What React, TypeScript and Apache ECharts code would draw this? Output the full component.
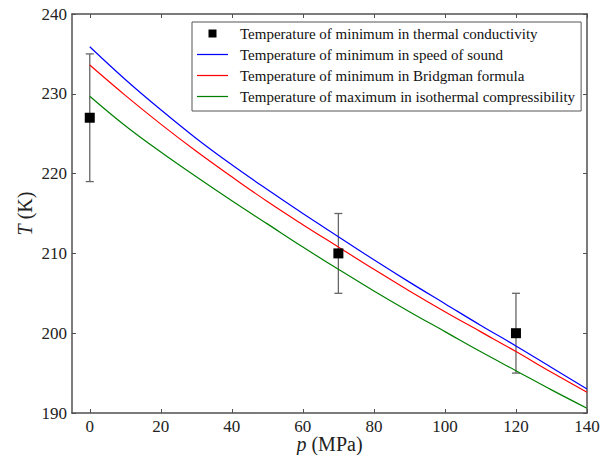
import React, { useEffect, useRef } from "react";
import * as echarts from "echarts";

// Pressure grid (MPa) for model curves
const pressure = [0, 10, 20, 30, 40, 50, 60, 70, 80, 90, 100, 110, 120, 130, 140];
// Temperature of minimum in speed of sound (K)
const soundT = [235.9, 231.8, 228.0, 224.4, 221.1, 218.0, 215.0, 212.1, 209.2, 206.4, 203.7, 201.0, 198.4, 195.7, 193.0];
// Temperature of minimum in Bridgman formula (K)
const bridgmanT = [233.6, 229.8, 226.2, 222.8, 219.6, 216.5, 213.6, 210.8, 208.0, 205.3, 202.7, 200.2, 197.7, 195.1, 192.6];
// Temperature of maximum in isothermal compressibility (K)
const compressT = [229.7, 226.0, 222.7, 219.6, 216.6, 213.7, 210.8, 208.0, 205.3, 202.7, 200.2, 197.7, 195.3, 192.9, 190.6];

// Experimental points: thermal conductivity minimum
const expP = [0, 70, 120];
const expT = [227, 210, 200];
const expLow = [219, 205, 195];
const expHigh = [235, 215, 205];

const xTicks = [0, 20, 40, 60, 80, 100, 120, 140];
const yTicks = [190, 200, 210, 220, 230, 240];

const names = [
  "Temperature of minimum in thermal conductivity",
  "Temperature of minimum in speed of sound",
  "Temperature of minimum in Bridgman formula",
  "Temperature of maximum in isothermal compressibility",
];

const FONT = "'Liberation Serif', 'Times New Roman', serif";
const SERIF = "Liberation Serif";
const AXIS_COLOR = "#505050";
const LINE_ICON = "path://M0,0 L100,0 L100,4 L0,4 Z";

export default function App() {
  const ref = useRef<HTMLDivElement>(null);
  useEffect(() => {
    if (!ref.current) return;
    const chart = echarts.init(ref.current, undefined, { renderer: "svg" });
    const commonX = {
      type: "value" as const,
      min: -5,
      max: 140,
      splitLine: { show: false },
      axisLine: { show: true, onZero: false, lineStyle: { color: AXIS_COLOR, width: 1.5 } },
      axisTick: { show: true, inside: true, length: 4, customValues: xTicks, lineStyle: { color: AXIS_COLOR } },
    };
    const commonY = {
      type: "value" as const,
      min: yTicks[0],
      max: yTicks[yTicks.length - 1],
      interval: 10,
      splitLine: { show: false },
      axisLine: { show: true, onZero: false, lineStyle: { color: AXIS_COLOR, width: 1.5 } },
      axisTick: { show: true, inside: true, length: 4, lineStyle: { color: AXIS_COLOR } },
    };
    const lineData = (arr: number[]) => pressure.map((p, i) => [p, arr[i]]);
    const NAME_SIZE = 20;
    const richI = { fontStyle: "italic", fontSize: NAME_SIZE, fontFamily: SERIF, color: "#222" };
    const richN = { fontSize: NAME_SIZE, fontFamily: SERIF, color: "#222" };
    chart.setOption({
      animation: false,
      backgroundColor: "#fff",
      textStyle: { fontFamily: FONT },
      grid: { left: 72, right: 20, top: 14, bottom: 42, containLabel: false, outerBoundsMode: "none" },
      xAxis: [
        {
          ...commonX,
          position: "bottom",
          axisLabel: {
            show: true,
            customValues: xTicks,
            margin: 5,
            fontSize: 17,
            color: "#222",
            fontFamily: SERIF,
          },
          name: "{i|p}{n| (MPa)}",
          nameLocation: "middle",
          nameGap: 31,
          nameMoveOverlap: false,
          nameTextStyle: {
            fontSize: NAME_SIZE,
            color: "#222",
            fontFamily: SERIF,
            verticalAlign: "middle",
            rich: { i: richI, n: richN },
          },
        },
        { ...commonX, position: "top", axisLabel: { show: false } },
      ],
      yAxis: [
        {
          ...commonY,
          position: "left",
          axisLabel: { show: true, margin: 5, fontSize: 17, color: "#222", fontFamily: SERIF },
          name: "{i|T}{n| (K)}",
          nameLocation: "middle",
          nameGap: 47,
          nameMoveOverlap: false,
          nameTextStyle: {
            fontSize: NAME_SIZE,
            color: "#222",
            fontFamily: SERIF,
            verticalAlign: "middle",
            rich: { i: richI, n: richN },
          },
        },
        { ...commonY, position: "right", axisLabel: { show: false } },
      ],
      legend: {
        data: [
          { name: names[0], icon: "path://M0,0 L10,0 L10,10 L0,10 Z" },
          { name: names[1], icon: LINE_ICON },
          { name: names[2], icon: LINE_ICON },
          { name: names[3], icon: LINE_ICON },
        ],
        orient: "vertical",
        left: 192,
        top: 22,
        itemWidth: 31,
        itemHeight: 8,
        itemGap: 6,
        padding: [4, 6, 7, 5],
        borderColor: "#555",
        borderWidth: 1,
        backgroundColor: "#fff",
        z: 10,
        textStyle: { fontSize: 15, color: "#111", fontFamily: FONT, padding: [0, 0, 0, 7] },
      },
      series: [
        {
          type: "custom",
          name: "errorbars",
          z: 2,
          silent: true,
          data: expP.map((p, i) => [p, expLow[i], expHigh[i]]),
          encode: { x: 0, y: [1, 2] },
          renderItem: (params: any, api: any) => {
            const x = api.value(0);
            const top = api.coord([x, api.value(2)]);
            const bot = api.coord([x, api.value(1)]);
            const cap = 4;
            const style = { stroke: "#666", lineWidth: 1.3 };
            return {
              type: "group",
              children: [
                { type: "line", shape: { x1: top[0], y1: top[1], x2: bot[0], y2: bot[1] }, style },
                { type: "line", shape: { x1: top[0] - cap, y1: top[1], x2: top[0] + cap, y2: top[1] }, style },
                { type: "line", shape: { x1: bot[0] - cap, y1: bot[1], x2: bot[0] + cap, y2: bot[1] }, style },
              ],
            };
          },
        },
        {
          type: "line",
          name: names[1],
          data: lineData(soundT),
          smooth: 0.4,
          symbol: "none",
          z: 3,
          lineStyle: { color: "#0000ff", width: 1.2 },
          itemStyle: { color: "#0000ff" },
        },
        {
          type: "line",
          name: names[2],
          data: lineData(bridgmanT),
          smooth: 0.4,
          symbol: "none",
          z: 3,
          lineStyle: { color: "#ff0000", width: 1.2 },
          itemStyle: { color: "#ff0000" },
        },
        {
          type: "line",
          name: names[3],
          data: lineData(compressT),
          smooth: 0.4,
          symbol: "none",
          z: 3,
          lineStyle: { color: "#008000", width: 1.2 },
          itemStyle: { color: "#008000" },
        },
        {
          type: "scatter",
          name: names[0],
          data: expP.map((p, i) => [p, expT[i]]),
          symbol: "rect",
          symbolSize: 10,
          z: 4,
          itemStyle: { color: "#000", opacity: 1 },
        },
      ],
    });
    return () => chart.dispose();
  }, []);
  return (
    <div
      ref={ref}
      style={{ position: "fixed", left: 0, top: 0, width: 607, height: 455 }}
    />
  );
}
